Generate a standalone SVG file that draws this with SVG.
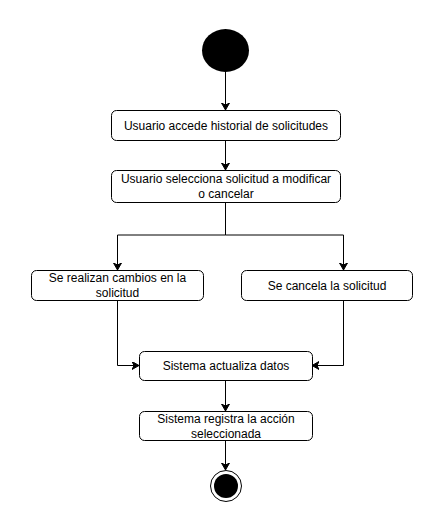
<svg xmlns="http://www.w3.org/2000/svg" width="444" height="531" viewBox="0 0 444 531">
<style>
.box{fill:#fff;stroke:#000;stroke-width:1}
.t{font-family:"Liberation Sans",Arial,sans-serif;font-size:12px;fill:#000;text-anchor:middle}
.c{fill:none;stroke:#000;stroke-width:1}
</style>
<defs>
<marker id="ar" markerWidth="10" markerHeight="10" refX="7" refY="4" orient="auto" markerUnits="userSpaceOnUse">
<path d="M0,0 L7,4 L0,8 L2,4 Z" fill="#000" stroke="#000" stroke-width="1"/>
</marker>
</defs>
<rect width="444" height="531" fill="#fff"/>
<g id="connectors">
<path class="c" d="M225.5,72 L225.5,110" marker-end="url(#ar)"/>
<path class="c" d="M225.5,140 L225.5,170" marker-end="url(#ar)"/>
<path class="c" d="M225.5,202 L225.5,235 L117.5,235 L117.5,270" marker-end="url(#ar)"/>
<path class="c" d="M225.5,235 L343.5,235 L343.5,270" marker-end="url(#ar)"/>
<path class="c" d="M117.5,301 L117.5,365.5 L139,365.5" marker-end="url(#ar)"/>
<path class="c" d="M343.5,301 L343.5,365.5 L312,365.5" marker-end="url(#ar)"/>
<path class="c" d="M225.5,380 L225.5,411" marker-end="url(#ar)"/>
<path class="c" d="M225.5,440 L225.5,470" marker-end="url(#ar)"/>
</g>
<g id="start"><ellipse cx="225.5" cy="50.5" rx="23.5" ry="21.5" fill="#000"/></g>
<g id="n1"><rect class="box" x="111.5" y="110.5" width="229" height="30" rx="5"/><text class="t" x="226" y="130">Usuario accede historial de solicitudes</text></g>
<g id="n2"><rect class="box" x="111.5" y="170.5" width="229" height="32" rx="5"/><text class="t" x="226" y="183">Usuario selecciona solicitud a modificar</text><text class="t" x="226" y="198">o cancelar</text></g>
<g id="n3"><rect class="box" x="31.5" y="270.5" width="172" height="30" rx="5"/><text class="t" x="117.5" y="282">Se realizan cambios en la</text><text class="t" x="117.5" y="297">solicitud</text></g>
<g id="n4"><rect class="box" x="241.5" y="270.5" width="171" height="30" rx="5"/><text class="t" x="327" y="290">Se cancela la solicitud</text></g>
<g id="n5"><rect class="box" x="139.5" y="351.5" width="173" height="29" rx="5"/><text class="t" x="226" y="370">Sistema actualiza datos</text></g>
<g id="n6"><rect class="box" x="139.5" y="411.5" width="173" height="29" rx="5"/><text class="t" x="226" y="423">Sistema registra la acción</text><text class="t" x="226" y="438">seleccionada</text></g>
<g id="end"><circle cx="226" cy="486" r="15.5" fill="#fff" stroke="#000" stroke-width="1"/><circle cx="226" cy="486" r="12" fill="#000"/></g>
</svg>
